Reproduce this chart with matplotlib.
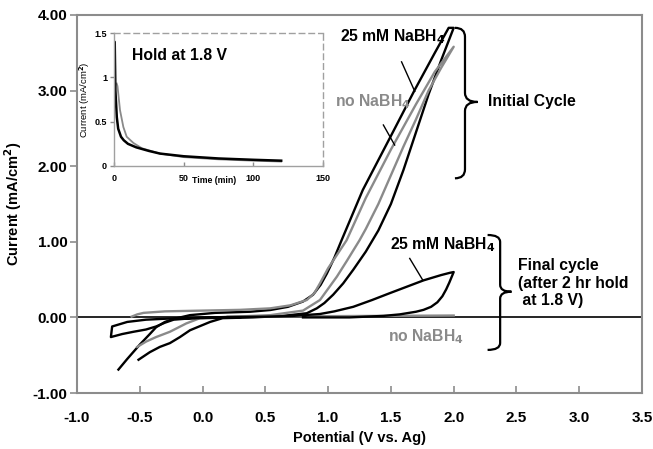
import numpy as np
import matplotlib
matplotlib.use("Agg")
import matplotlib.pyplot as plt
from matplotlib.path import Path
from matplotlib.patches import PathPatch

plt.rcParams['font.family'] = ['Liberation Sans', 'DejaVu Sans']
plt.rcParams['font.weight'] = 'bold'

# initial cycle, 25 mM NaBH4 (black)
init_bh_x = [-0.67, -0.6, -0.5, -0.42, -0.37, -0.3, -0.23, -0.1, 0.1, 0.38, 0.54, 0.68, 0.8, 0.88, 0.94, 0.99,
             1.05, 1.107, 1.276, 1.5, 1.69, 1.85, 1.96, 2.0,
             1.9, 1.8, 1.7, 1.6, 1.5, 1.4, 1.3, 1.2, 1.12, 1.04, 0.97, 0.91, 0.83, 0.64, 0.4, 0.16, 0.06,
             -0.1, -0.18, -0.26, -0.34, -0.42, -0.51]
init_bh_y = [-0.69, -0.55, -0.36, -0.22, -0.13, -0.06, -0.02, 0.03, 0.06, 0.075, 0.098, 0.14, 0.21, 0.30, 0.43, 0.58,
             0.79, 1.02, 1.685, 2.4, 3.01, 3.5, 3.83, 3.83,
             3.4, 2.95, 2.45, 1.95, 1.5, 1.15, 0.87, 0.63, 0.45, 0.30, 0.19, 0.12, 0.055, 0.02, 0.0, -0.01, -0.06,
             -0.17, -0.26, -0.34, -0.39, -0.46, -0.56]

# initial cycle, no NaBH4 (gray)
init_no_x = [-0.565, -0.52, -0.47, -0.3, 0.0, 0.3, 0.54, 0.7, 0.83, 0.89, 0.935, 1.0, 1.147, 1.3, 1.5, 1.7, 1.85, 2.0,
             1.9, 1.8, 1.7, 1.6, 1.5, 1.4, 1.3, 1.25, 1.15, 1.07, 0.935, 0.8, 0.54, 0.1, -0.02, -0.13, -0.26,
             -0.37, -0.45, -0.52]
init_no_y = [0.01, 0.04, 0.06, 0.08, 0.09, 0.1, 0.12, 0.16, 0.23, 0.32, 0.45, 0.65, 1.02, 1.58, 2.22, 2.82, 3.25, 3.58,
             3.3, 3.0, 2.62, 2.26, 1.88, 1.5, 1.17, 1.02, 0.75, 0.54, 0.23, 0.09, 0.03, 0.0, -0.01, -0.08, -0.19,
             -0.26, -0.32, -0.39]

# final cycle, 25 mM NaBH4 (black)
fin_bh_x = [0.3, 0.0, -0.2, -0.45, -0.6, -0.72, -0.73, -0.64, -0.55, -0.45, -0.37, -0.3, -0.23, 0.0, 0.5, 0.72,
            0.935, 1.05, 1.2, 1.35, 1.49, 1.76, 1.9, 1.97, 2.0,
            1.985, 1.965, 1.94, 1.91, 1.87, 1.82, 1.76, 1.7, 1.57, 1.44, 1.17, 0.8]
fin_bh_y = [0.0, -0.01, -0.01, -0.03, -0.06, -0.12, -0.26, -0.22, -0.19, -0.16, -0.12, -0.07, -0.03, 0.0, 0.01, 0.02,
            0.045, 0.08, 0.14, 0.23, 0.32, 0.49, 0.56, 0.59, 0.6,
            0.54, 0.46, 0.37, 0.28, 0.2, 0.14, 0.1, 0.075, 0.04, 0.02, 0.0, 0.0]

# final cycle, no NaBH4 (gray)
fin_no_x = [0.2, 0.8, 1.4, 2.0]
fin_no_y = [0.01, 0.015, 0.02, 0.025]

# inset: hold at 1.8 V
hold_bh_t = [0, 0.5, 1, 2, 3, 5, 7, 10, 16, 25, 33, 50, 75, 100, 120]
hold_bh_i = [1.4, 1.4, 0.85, 0.55, 0.42, 0.33, 0.29, 0.25, 0.21, 0.17, 0.14, 0.11, 0.085, 0.07, 0.06]
hold_no_t = [1.9, 2.5, 4.3, 6.7, 9.1, 13.9, 20, 33, 50, 75, 100, 120]
hold_no_i = [0.93, 0.9, 0.63, 0.44, 0.33, 0.26, 0.2, 0.14, 0.1, 0.075, 0.06, 0.05]

gray = '#8a8a8a'
frame = '#8c8c8c'


def brace(ax, x0, ytop, ybot, ymid, xleft, xtip):
    r = 0.12 * (ytop - ybot) / 2
    verts = [(xleft, ytop), (x0, ytop), (x0, ytop - r), (x0, ytop - r),
             (x0, ymid + r), (x0, ymid), (xtip, ymid),
             (x0, ymid), (x0, ymid - r),
             (x0, ybot + r), (x0, ybot + r), (x0, ybot), (xleft, ybot)]
    codes = [Path.MOVETO, Path.CURVE3, Path.CURVE3, Path.LINETO,
             Path.LINETO, Path.CURVE3, Path.CURVE3,
             Path.CURVE3, Path.CURVE3,
             Path.LINETO, Path.LINETO, Path.CURVE3, Path.CURVE3]
    ax.add_patch(PathPatch(Path(verts, codes), fill=False, lw=1.6, color='black', clip_on=False))


fig = plt.figure(figsize=(6.53, 4.49), dpi=100)
ax = fig.add_axes([0.1179, 0.1247, 0.8653, 0.8419])

ax.plot(init_bh_x, init_bh_y, color='black', lw=1.7)
ax.plot(init_no_x, init_no_y, color=gray, lw=1.7)
ax.plot(fin_no_x, fin_no_y, color=gray, lw=1.7)
ax.plot(fin_bh_x, fin_bh_y, color='black', lw=1.7)
ax.axhline(0, color='black', lw=1.2, zorder=0)

ax.set_xlim(-1.0, 3.5)
ax.set_ylim(-1.0, 4.0)
ax.set_xticks(np.arange(-1.0, 3.51, 0.5))
ax.set_xticklabels(['%.1f' % v for v in np.arange(-1.0, 3.51, 0.5)])
ax.set_yticks(np.arange(-1.0, 4.01, 1.0))
ax.set_yticklabels(['%.2f' % v for v in np.arange(-1.0, 4.01, 1.0)])
ax.tick_params(axis='x', direction='in', length=5, width=1.2, color=frame, pad=13, labelsize=11)
ax.tick_params(axis='y', direction='out', length=5, width=1.2, color=frame, pad=2, labelsize=11)
for s in ax.spines.values():
    s.set_color(frame)
    s.set_linewidth(1.5)
ax.set_xlabel('Potential (V vs. Ag)', fontsize=10.5, fontweight='bold', labelpad=4)
ax.set_ylabel('Current (mA/cm$^\\mathbf{2}$)', fontsize=10.5, fontweight='bold', labelpad=6)

# labels
fs = 11.3
ax.text(1.094, 3.71, '25 mM NaBH$_\\mathbf{4}$', fontsize=fs, va='center', color='black')
ax.plot([1.585, 1.69], [3.38, 2.99], color='black', lw=1)
ax.text(1.054, 2.85, 'no NaBH$_\\mathbf{4}$', fontsize=fs, va='center', color=gray)
ax.plot([1.44, 1.53], [2.545, 2.28], color='black', lw=1)
ax.text(1.49, 0.956, '25 mM NaBH$_\\mathbf{4}$', fontsize=fs, va='center', color='black')
ax.plot([1.65, 1.755], [0.78, 0.49], color='black', lw=1)
ax.text(1.476, -0.255, 'no NaBH$_\\mathbf{4}$', fontsize=fs, va='center', color=gray)
ax.text(2.27, 2.85, 'Initial Cycle', fontsize=fs, va='center')
ax.text(2.51, 0.455, 'Final cycle\n(after 2 hr hold\n at 1.8 V)', fontsize=fs, va='center',
        linespacing=1.2)

brace(ax, 2.09, 3.83, 1.84, 2.85, 2.01, 2.19)
brace(ax, 2.37, 1.09, -0.43, 0.34, 2.27, 2.46)

# inset
ins = fig.add_axes([0.1746, 0.6303, 0.32, 0.2962])
ins.plot(hold_no_t, hold_no_i, color=gray, lw=1.3)
ins.plot(hold_bh_t, hold_bh_i, color='black', lw=1.8)
ins.set_xlim(0, 150)
ins.set_ylim(0, 1.5)
ins.set_xticks([0, 50, 100, 150])
ins.set_yticks([0, 0.5, 1, 1.5])
ins.set_yticklabels(['0', '0.5', '1', '1.5'])
ins.tick_params(axis='x', direction='in', length=3, width=1, color=frame, pad=6, labelsize=6.5)
ins.tick_params(axis='y', direction='out', length=3, width=1, color=frame, pad=2, labelsize=6.5)
for k in ['left', 'bottom']:
    ins.spines[k].set_color('#a0a0a0')
    ins.spines[k].set_linewidth(1.0)
for k in ['top', 'right']:
    ins.spines[k].set_color('#a0a0a0')
    ins.spines[k].set_linewidth(1.0)
    ins.spines[k].set_linestyle((0, (4, 3)))
ins.set_facecolor('none')
ins.text(0.48, -0.075, 'Time (min)', transform=ins.transAxes, fontsize=6.3, ha='center', va='top')
ins.set_ylabel('Current (mA/cm$^\\mathbf{2}$)', fontsize=6.8, labelpad=2)
ins.text(12.9, 1.25, 'Hold at 1.8 V', fontsize=fs, va='center')

fig.savefig('out.png', dpi=100)
